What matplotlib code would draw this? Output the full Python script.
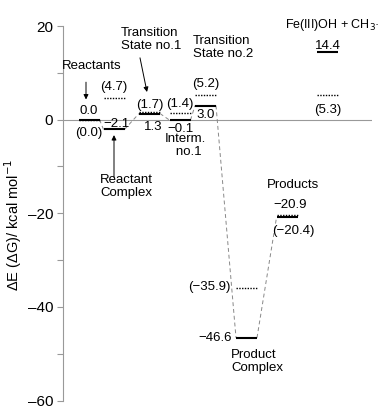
import matplotlib
matplotlib.use("Agg")
import matplotlib.pyplot as plt

plt.rcParams['font.family'] = ['Liberation Sans', 'DejaVu Sans']

# data
states = ["Reactants", "Reactant Complex", "Transition State no.1", "Interm. no.1",
          "Transition State no.2", "Product Complex", "Products", "Fe(III)OH + CH3"]
dE = [0.0, -2.1, 1.3, -0.1, 3.0, -46.6, -20.9, 14.4]
dG = [0.0, 4.7, 1.7, 1.4, 5.2, -35.9, -20.4, 5.3]
dE_labels = ["0.0", "\u22122.1", "1.3", "\u22120.1", "3.0", "\u221246.6", "\u221220.9", "14.4"]
dG_labels = ["(0.0)", "(4.7)", "(1.7)", "(1.4)", "(5.2)", "(\u221235.9)", "(\u221220.4)", "(5.3)"]
yticks_major = [20, 0, -20, -40, -60]
yticks_minor = [10, -10, -30, -50]

# layout
centers = [26, 51, 86.5, 117, 142.5, 183.5, 224, 264.5]
hw = 10.5

W, H = 379, 408
fig = plt.figure(figsize=(W / 100, H / 100), dpi=100)
ax = fig.add_axes([63 / W, 1 - 400.5 / H, (372 - 63) / W, (400.5 - 26) / H])
ax.set_xlim(0, 309)
ax.set_ylim(-60, 20)

for s in ["top", "right", "bottom"]:
    ax.spines[s].set_visible(False)
ax.spines["left"].set_color("#999999")
ax.spines["left"].set_linewidth(0.8)
ax.set_xticks([])
ax.set_yticks(yticks_major)
ax.set_yticklabels([str(v).replace("-", "\u2013") for v in yticks_major], fontsize=11)
ax.set_yticks(yticks_minor, minor=True)
ax.tick_params(axis="y", which="both", direction="out", length=4, color="#999999", width=0.8, pad=3)

# zero line
ax.axhline(0, color="#999999", lw=0.8, zorder=0)

# connectors (E path)
for i in range(len(states) - 2):
    ax.plot([centers[i] + hw, centers[i + 1] - hw], [dE[i], dE[i + 1]],
            color="#888888", lw=0.7, ls=(0, (4, 3)), zorder=1)

# levels
for c, e, g in zip(centers, dE, dG):
    ax.plot([c - hw, c + hw], [e, e], color="black", lw=1.5, solid_capstyle="butt", zorder=3)
    ax.plot([c - hw, c + hw], [g, g], color="black", lw=1.0, ls=(0, (1, 1)), zorder=3)

fs = 9.5
def txt(x, y, s, **kw):
    kw.setdefault("ha", "center")
    kw.setdefault("va", "center")
    kw.setdefault("fontsize", fs)
    ax.text(x, y, s, **kw)

# value labels
txt(centers[0], 1.9, dE_labels[0])
txt(centers[0], -2.9, dG_labels[0])
txt(centers[1], 7.0, dG_labels[1])
txt(centers[1] + 2, -0.9, dE_labels[1])
txt(centers[2], 3.2, dG_labels[2])
txt(centers[2] + 4, -1.6, dE_labels[2])
txt(centers[3], 3.4, dG_labels[3])
txt(centers[3] + 1, -1.9, dE_labels[3])
txt(centers[4], 7.6, dG_labels[4])
txt(centers[4], 1.0, dE_labels[4])
txt(146, -35.8, dG_labels[5])
txt(152, -46.6, dE_labels[5])
txt(227, -18.3, dE_labels[6])
txt(230, -23.8, dG_labels[6])
txt(centers[7], 15.8, dE_labels[7])
txt(centers[7], 2.1, dG_labels[7])

# state labels
txt(29, 11.5, "Reactants")
txt(37, -14.2, "Reactant\nComplex", ha="left", linespacing=1.1)
txt(58, 17.2, "Transition\nState no.1", ha="left", linespacing=1.1)
txt(102, -5.6, "Interm.\n   no.1", ha="left", linespacing=1.1)
txt(130, 15.5, "Transition\nState no.2", ha="left", linespacing=1.1)
txt(230, -13.9, "Products")
txt(168, -51.6, "Product\nComplex", ha="left", linespacing=1.1)
txt(222, 20.2, "Fe(III)OH + CH$_3$\u00b7", ha="left", fontsize=9, clip_on=False)

# arrows
arr = dict(arrowstyle="-|>", color="black", lw=0.7, mutation_scale=7, shrinkA=0, shrinkB=0)
ax.annotate("", xy=(23, 4.3), xytext=(23, 8.0), arrowprops=arr)
ax.annotate("", xy=(51, -3.3), xytext=(51, -12.3), arrowprops=arr)
ax.annotate("", xy=(84, 5.9), xytext=(77, 13.2), arrowprops=arr)

fig.text(13 / W, 1 - 225 / H, "\u0394E (\u0394G)/ kcal mol$^{-1}$", rotation=90,
         ha="center", va="center", fontsize=10.5)

fig.savefig("out.png", dpi=100)
